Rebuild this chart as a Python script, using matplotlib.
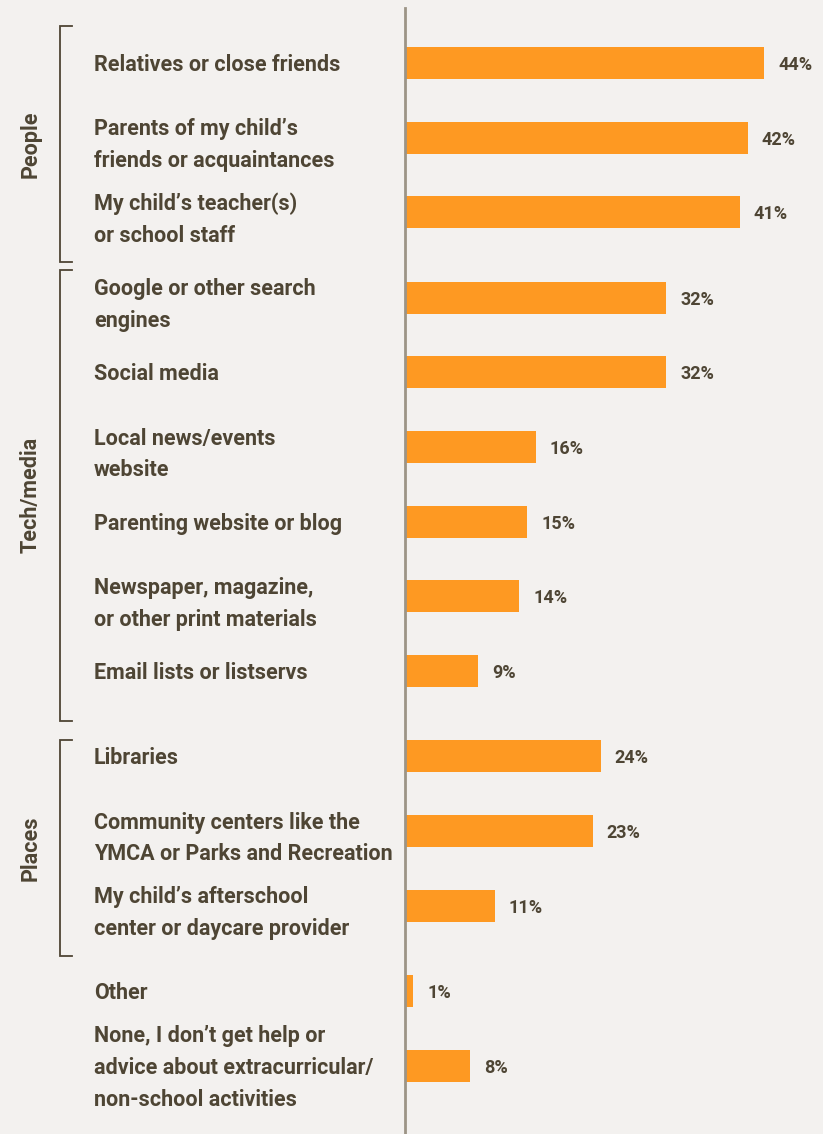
import numpy as np
import matplotlib.pyplot as plt

sources = [
    "Relatives or close friends",
    "Parents of my child’s\nfriends or acquaintances",
    "My child’s teacher(s)\nor school staff",
    "Google or other search\nengines",
    "Social media",
    "Local news/events\nwebsite",
    "Parenting website or blog",
    "Newspaper, magazine,\nor other print materials",
    "Email lists or listservs",
    "Libraries",
    "Community centers like the\nYMCA or Parks and Recreation",
    "My child’s afterschool\ncenter or daycare provider",
    "Other",
    "None, I don’t get help or\nadvice about extracurricular/\nnon-school activities",
]
shares = [44, 42, 41, 32, 32, 16, 15, 14, 9, 24, 23, 11, 1, 8]
group_of = [0, 0, 0, 1, 1, 1, 1, 1, 1, 2, 2, 2, 3, 3]
group_names = ["People", "Tech/media", "Places"]

ORANGE = "#FE9922"
BG = "#F3F1EF"
INK = "#4E4534"
RULE = "#9C9486"

W, H = 823, 1134
x0 = 405          # pixel position of the zero line
ppu = 8.16        # pixels per percentage point
row = 74.6        # pixel spacing between rows
gap = 11          # extra pixels between groups
top = 63          # first bar centre

fig = plt.figure(figsize=(W / 100, H / 100), dpi=100, facecolor=BG)
ax = fig.add_axes([0, 0, 1, 1])
ax.set_facecolor(BG)
ax.set_xlim(-x0 / ppu, (W - x0) / ppu)
ax.set_ylim(H, 0)
ax.axis("off")


def px(x):
    return (x - x0) / ppu


ypos = np.array([top + row * i + gap * g for i, g in enumerate(group_of)])
ax.barh(ypos, shares, height=32, color=ORANGE, zorder=2)
ax.plot([0, 0], [8, H], color=RULE, lw=2, zorder=3)

font = dict(family=["Roboto", "DejaVu Sans"], weight="bold", color=INK)
line_h = 32
for y, lab, v in zip(ypos, sources, shares):
    lines = lab.split("\n")
    n = len(lines)
    nudge = 5.5 if n == 2 else 0
    for k, ln in enumerate(lines):
        ly = y + (k - (n - 1) / 2) * line_h + nudge + 2
        ax.text(px(94), ly, ln, ha="left", va="center", fontsize=15.5, **font)
    ax.text(v + 14 / ppu, y + 2, f"{v}%", ha="left", va="center",
            fontsize=13, **font)

# group brackets on the left
top_pad = [37, 28, 16]
for g, name in enumerate(group_names):
    ys = ypos[np.array(group_of) == g]
    y1, y2 = ys[0] - top_pad[g], ys[-1] + 50
    ax.plot([px(72), px(60), px(60), px(72)], [y1, y1, y2, y2],
            color=INK, lw=1.3, solid_joinstyle="miter")
    ax.text(px(31), (y1 + y2) / 2, name, rotation=90, ha="center",
            va="center", fontsize=15.5, **font)

fig.savefig("out.png", dpi=100, facecolor=BG)
